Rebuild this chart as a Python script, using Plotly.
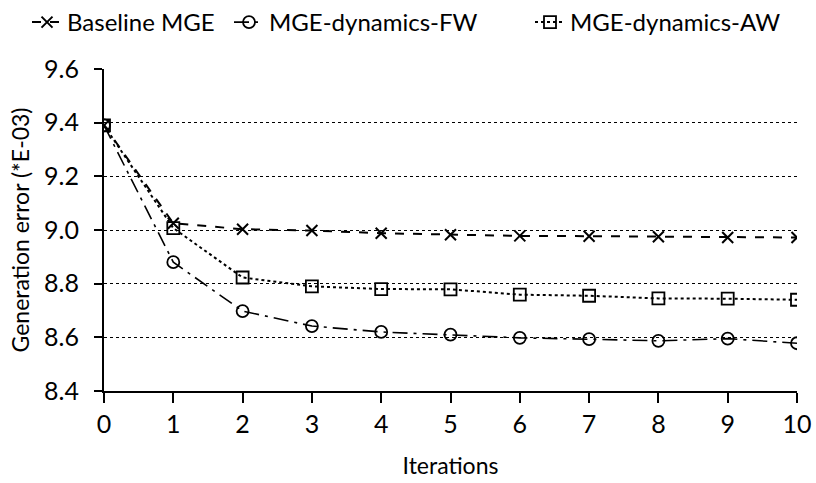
import plotly.graph_objects as go

iterations = [0, 1, 2, 3, 4, 5, 6, 7, 8, 9, 10]
baseline_mge = [9.39, 9.025, 9.003, 8.998, 8.988, 8.982, 8.978, 8.977, 8.975, 8.972, 8.972]
mge_dynamics_fw = [9.39, 8.88, 8.698, 8.642, 8.62, 8.61, 8.598, 8.593, 8.587, 8.595, 8.578]
mge_dynamics_aw = [9.39, 9.007, 8.823, 8.79, 8.78, 8.779, 8.759, 8.755, 8.745, 8.744, 8.74]

FONT = "Lato, 'Open Sans', sans-serif"

fig = go.Figure()
fig.add_trace(go.Scatter(
    x=iterations, y=baseline_mge, name="Baseline MGE", mode="lines+markers",
    line=dict(color="black", width=2, dash="dash"),
    marker=dict(symbol="x-thin-open", size=11, line=dict(color="black", width=2)),
    legend="legend",
))
fig.add_trace(go.Scatter(
    x=iterations, y=mge_dynamics_fw, name="MGE-dynamics-FW", mode="lines+markers",
    line=dict(color="black", width=1.6, dash="longdashdot"),
    marker=dict(symbol="circle-open", size=12, color="black", line=dict(color="black", width=1.8)),
    legend="legend2",
))
fig.add_trace(go.Scatter(
    x=iterations, y=mge_dynamics_aw, name="MGE-dynamics-AW", mode="lines+markers",
    line=dict(color="black", width=2, dash="dot"),
    marker=dict(symbol="square-open", size=12, color="black", line=dict(color="black", width=1.8)),
    legend="legend3",
))

# one single-entry legend per series, laid out in a row along the top
legend_style = dict(orientation="h", xref="container", yref="container",
                    xanchor="left", y=1.0, yanchor="top",
                    font=dict(size=24), bgcolor="rgba(0,0,0,0)")

fig.update_layout(
    width=816, height=483,
    margin=dict(l=104, r=19, t=69, b=92, autoexpand=False),
    paper_bgcolor="white", plot_bgcolor="white",
    font=dict(family=FONT, size=24, color="black"),
    showlegend=True,
    legend=dict(legend_style, x=27 / 816),
    legend2=dict(legend_style, x=229 / 816),
    legend3=dict(legend_style, x=530 / 816),
)
fig.update_xaxes(
    range=[0, 10], tickmode="array", tickvals=iterations,
    ticks="outside", ticklen=10, tickwidth=2, tickcolor="black",
    showline=True, linecolor="black", linewidth=2, showgrid=False, zeroline=False,
    title=dict(text="Iterations", font=dict(size=23), standoff=21),
    tickfont=dict(size=25), ticklabelstandoff=0,
)
fig.update_yaxes(
    range=[8.4, 9.6], tickmode="array",
    tickvals=[8.4, 8.6, 8.8, 9.0, 9.2, 9.4, 9.6],
    ticktext=["8.4", "8.6", "8.8", "9.0", "9.2", "9.4", "9.6"],
    ticks="outside", ticklen=8, tickwidth=2, tickcolor="black",
    showline=True, linecolor="black", linewidth=2,
    showgrid=True, gridcolor="black", gridwidth=1, griddash="dot", zeroline=False,
    title=dict(text="Generation error (*E-03)", font=dict(size=23), standoff=8),
    tickfont=dict(size=25), ticklabelstandoff=10,
)

fig.write_html("out.html")
